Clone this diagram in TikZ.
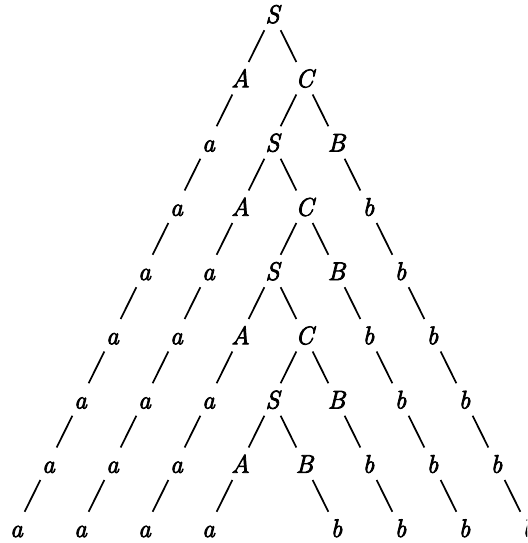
\documentclass[tikz,border=0pt]{standalone}
\usepackage{fontspec}
\newfontfamily\lmi{Latin Modern Roman}[FakeBold=3]
\begin{document}
\begin{tikzpicture}[x=32pt,y=-64.25pt,
  lab/.style={circle, minimum size=36pt, inner sep=0pt, text height=18pt, text depth=0pt, font=\fontsize{25.5}{30}\selectfont\lmi\itshape},
  edge/.style={line width=1.7pt}]
\useasboundingbox (-272.5pt,14pt) rectangle (254.5pt,-529pt);
\clip (-272.5pt,14pt) rectangle (254.5pt,-529pt);
% spine
\node[lab] (S0) at (0,0) {S};
\node[lab, alias=a1-1] (A1) at (-1,1) {A};
\node[lab] (C1) at (1,1) {C};
\node[lab] (S2) at (0,2) {S};
\node[lab, alias=b2-2] (B2) at (2,2) {B};
\node[lab, alias=a3-3] (A3) at (-1,3) {A};
\node[lab] (C3) at (1,3) {C};
\node[lab] (S4) at (0,4) {S};
\node[lab, alias=b4-4] (B4) at (2,4) {B};
\node[lab, alias=a5-5] (A5) at (-1,5) {A};
\node[lab] (C5) at (1,5) {C};
\node[lab] (S6) at (0,6) {S};
\node[lab, alias=b6-6] (B6) at (2,6) {B};
\node[lab, alias=a7-7] (A7) at (-1,7) {A};
\node[lab, alias=b7-7] (B7) at (1,7) {B};
\foreach \p/\c in {S0/A1,S0/C1,C1/S2,C1/B2,S2/A3,S2/C3,C3/S4,C3/B4,S4/A5,S4/C5,C5/S6,C5/B6,S6/A7,S6/B7}
  \draw[edge] (\p) -- (\c);
% a chains
\foreach \s in {1,3,5,7} {
  \pgfmathtruncatemacro\st{\s+1}
  \foreach \L in {\st,...,8} {
    \pgfmathtruncatemacro\pl{\L-1}
    \pgfmathtruncatemacro\k{-1-\L+\s}
    \node[lab] (a\s-\L) at (\k,\L) {a};
    \draw[edge] (a\s-\pl) -- (a\s-\L);
  }
}
% b chains
\foreach \s/\ks in {2/2,4/2,6/2,7/1} {
  \pgfmathtruncatemacro\st{\s+1}
  \foreach \L in {\st,...,8} {
    \pgfmathtruncatemacro\pl{\L-1}
    \pgfmathtruncatemacro\k{\ks+\L-\s}
    \node[lab] (b\s-\L) at (\k,\L) {b};
    \draw[edge] (b\s-\pl) -- (b\s-\L);
  }
}
\end{tikzpicture}
\end{document}
